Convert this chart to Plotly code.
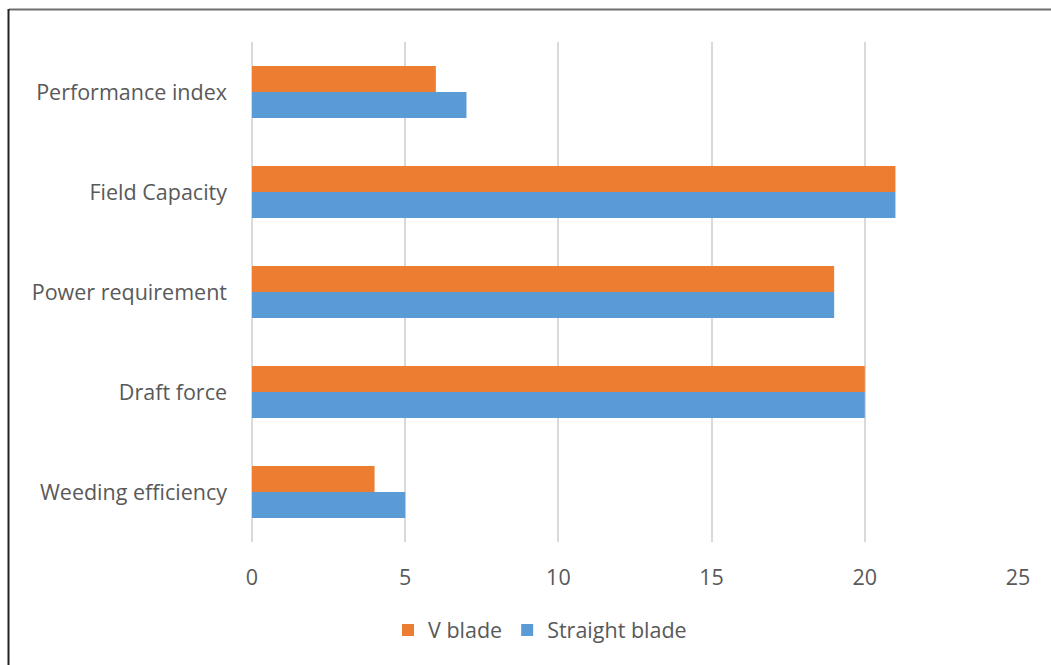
import plotly.graph_objects as go

categories = ["Weeding efficiency", "Draft force", "Power requirement", "Field Capacity", "Performance index"]
straight_blade = [5, 20, 19, 21, 7]
v_blade = [4, 20, 19, 21, 6]
x_ticks = [0, 5, 10, 15, 20, 25]

W, H = 1051, 665
L, R, T, B = 252, 33, 42, 123
pw, ph = W - L - R, H - T - B

def px(x):
    return (x - L) / pw

def py(y):
    return (H - B - y) / ph

FONT = "Open Sans"
FS = 21.5
fig = go.Figure()
fig.add_trace(go.Bar(y=categories, x=straight_blade, orientation="h", name="Straight blade",
                     marker=dict(color="#5B9BD5", line=dict(width=0))))
fig.add_trace(go.Bar(y=categories, x=v_blade, orientation="h", name="V blade",
                     marker=dict(color="#ED7D31", line=dict(width=0))))

fig.update_layout(
    width=W, height=H,
    margin=dict(l=L, r=R, t=T, b=B, pad=0),
    paper_bgcolor="white", plot_bgcolor="white",
    barmode="group", bargap=0.48, bargroupgap=0,
    font=dict(family=FONT, size=FS, color="#595959"),
    xaxis=dict(range=[0, 25], tickvals=x_ticks, showgrid=True, gridcolor="#D9D9D9", gridwidth=2,
               zeroline=True, zerolinecolor="#D9D9D9", zerolinewidth=2,
               showline=False, ticks="", ticklabelstandoff=20,
               tickfont=dict(size=FS, color="#595959")),
    yaxis=dict(showgrid=False, zeroline=False, showline=False, ticks="", ticklabelstandoff=24,
               tickfont=dict(size=FS, color="#595959")),
    legend=dict(orientation="h", x=px(540), xanchor="center", y=py(630), yanchor="middle",
                traceorder="reversed", font=dict(size=FS, color="#595959"), itemwidth=30,
                tracegroupgap=0),
    showlegend=True,
    shapes=[
        dict(type="line", xref="paper", yref="paper", x0=px(9), x1=px(1051), y0=py(9.5), y1=py(9.5),
             line=dict(color="#6E6E6E", width=2)),
        dict(type="line", xref="paper", yref="paper", x0=px(8.5), x1=px(8.5), y0=py(9), y1=py(665),
             line=dict(color="#222222", width=2)),
    ],
)
fig.write_html("out.html")
